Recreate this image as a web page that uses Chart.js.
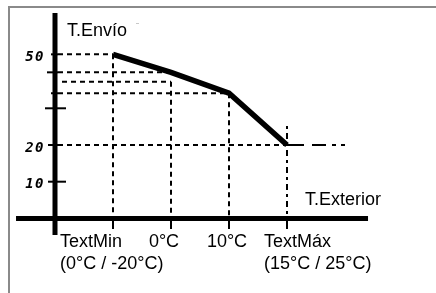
<!DOCTYPE html>
<html>
<head>
<meta charset="utf-8">
<script src="https://cdn.jsdelivr.net/npm/chart.js@4/dist/chart.umd.min.js"></script>
<style>
  html, body { margin: 0; padding: 0; background: #fff; }
  #wrap { width: 436px; height: 293px; position: relative; }
</style>
</head>
<body>
<div id="wrap"><canvas id="c" width="436" height="293"></canvas></div>
<script>
// ---- data (schematic axis units) ----
const categories   = ['TextMin', '0°C', '10°C', 'TextMáx'];
const categorySub  = ['(0°C / -20°C)', '', '', '(15°C / 25°C)'];
const categoryPos  = [1, 2, 3, 4];
const tEnvio       = [44.7, 39.8, 34.1, 20];          // heating curve
const guideTops    = [44.7, 37.25, 34.1, 25.2];        // top of vertical guides
const guideLevels  = [44.7, 39.8, 37.25, 34.1, 20];    // horizontal guides
const guideEnds    = [1, 2, 2, 3, 4];                  // where each horizontal guide ends
const yTickPos     = [44.7, 20, 10];
const yTickLabels  = ['50', '20', '10'];
const yMarkLevels  = [44.7, 39.8, 34.1, 30, 20, 10];
const xAxisLabel   = 'T.Exterior';
const yAxisLabel   = 'T.Envío';

// scale ranges (canvas is 436x293, chart area = whole canvas)
const X_MIN = -55 / 58, X_MAX = (436 - 55) / 58;
const Y_MIN = -20.33, Y_MAX = 59.51;
const PX = 1 / 58;

function seg(x1, y1, x2, y2, o) {
  return Object.assign({
    data: [{x: x1, y: y1}, {x: x2, y: y2}],
    showLine: true, borderColor: '#000', borderWidth: 2,
    pointRadius: 0, borderCapStyle: 'butt', fill: false
  }, o || {});
}

const datasets = [];
const dash = [5, 4];
// horizontal dashed guides
guideLevels.forEach((lv, i) => {
  const start = (lv === 37.25) ? 7 * PX : 3 * PX;
  datasets.push(seg(start, lv, guideEnds[i], lv, {borderDash: dash}));
});
// continuation of 20 level after TextMáx (dash-dot)
datasets.push(seg(4, 20, 5.03, 20, {borderDash: [17, 8, 14, 6, 4, 5, 4, 20]}));
// vertical dashed guides
categoryPos.forEach((x, i) => {
  const o = {borderDash: i === 3 ? [3, 4, 6, 4] : dash};
  datasets.push(seg(x, guideTops[i], x, 0, o));
  // tick below x axis
  datasets.push(seg(x, 0, x, -2.9, {}));
});
// y marks (solid short ticks)
const markLeft  = {44.7: -4, 39.8: -8, 34.1: -4, 30: -10, 20: -7, 10: -7};
const markRight = {44.7: 3, 39.8: 3, 34.1: 3, 30: 11, 20: 3, 10: 11};
yMarkLevels.forEach(lv => {
  datasets.push(seg(markLeft[lv] * PX, lv, markRight[lv] * PX, lv, {}));
});
// axes
datasets.push(seg(0, -4.52, 0, 55.97, {borderWidth: 5}));
datasets.push(seg(-0.672, 0, 5.397, 0, {borderWidth: 5}));
// heating curve
datasets.push({
  data: categoryPos.map((x, i) => ({x: x, y: tEnvio[i]})),
  showLine: true, borderColor: '#000', borderWidth: 5.5, pointRadius: 0,
  borderCapStyle: 'butt', borderJoinStyle: 'miter', fill: false
});

const framePlugin = {
  id: 'frame',
  beforeDraw(chart) {
    const ctx = chart.ctx;
    ctx.save();
    ctx.fillStyle = '#fff';
    ctx.fillRect(0, 0, chart.width, chart.height);
    ctx.strokeStyle = '#8a8a8a';
    ctx.lineWidth = 2;
    ctx.beginPath();
    ctx.moveTo(9, chart.height);
    ctx.lineTo(9, 7);
    ctx.lineTo(chart.width, 7);
    ctx.stroke();
    // tiny grey mark near the y title
    ctx.strokeStyle = '#c8c8c8';
    ctx.lineWidth = 1;
    ctx.beginPath();
    ctx.moveTo(136, 23.5);
    ctx.lineTo(139, 23.5);
    ctx.stroke();
    ctx.restore();
  }
};

const textPlugin = {
  id: 'texts',
  afterDatasetsDraw(chart) {
    const ctx = chart.ctx, xs = chart.scales.x, ys = chart.scales.y;
    ctx.save();
    ctx.fillStyle = '#000';
    ctx.textBaseline = 'middle';
    ctx.font = '18px "Liberation Sans", Arial, sans-serif';
    // axis titles
    ctx.textAlign = 'left';
    ctx.fillText(yAxisLabel, xs.getPixelForValue(0) + 12, ys.getPixelForValue(Y_MAX) + 31);
    ctx.fillText(xAxisLabel, xs.getPixelForValue(categoryPos[3]) + 18, ys.getPixelForValue(0) - 18);
    // category labels
    const y0 = ys.getPixelForValue(0);
    categories.forEach((c, i) => {
      const px = xs.getPixelForValue(categoryPos[i]);
      if (categorySub[i]) {
        ctx.textAlign = 'left';
        const lx = px - (i === 0 ? 53 : 23);
        ctx.fillText(c, lx, y0 + 24);
        ctx.fillText(categorySub[i], lx, y0 + 46);
      } else {
        ctx.textAlign = 'center';
        ctx.fillText(c, px - (i === 1 ? 7 : 2), y0 + 24);
      }
    });
    // y tick labels
    ctx.font = 'italic bold 14px "DejaVu Sans Mono", monospace';
    try { ctx.letterSpacing = '1.5px'; } catch (e) {}
    ctx.textAlign = 'right';
    yTickPos.forEach((v, i) => {
      ctx.fillText(yTickLabels[i], xs.getPixelForValue(0) - 10, ys.getPixelForValue(v) + 3);
    });
    ctx.restore();
  }
};

new Chart(document.getElementById('c'), {
  type: 'scatter',
  data: { datasets },
  options: {
    responsive: false,
    animation: false,
    devicePixelRatio: 1,
    layout: { padding: 0 },
    plugins: { legend: { display: false }, tooltip: { enabled: false } },
    scales: {
      x: { type: 'linear', display: false, min: X_MIN, max: X_MAX },
      y: { type: 'linear', display: false, min: Y_MIN, max: Y_MAX }
    }
  },
  plugins: [framePlugin, textPlugin]
});
</script>
</body>
</html>
